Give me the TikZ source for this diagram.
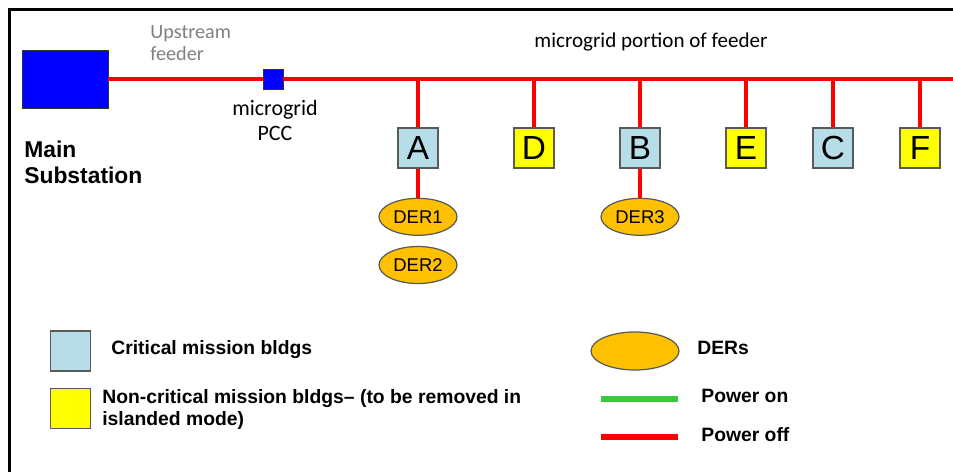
\documentclass[tikz,border=0pt]{standalone}
\usepackage{fontspec}
\setmainfont{Liberation Sans}
\newfontfamily\calibri{Carlito}
\usepackage{xcolor}
\usetikzlibrary{positioning,shapes.geometric}
\definecolor{feedred}{HTML}{FF0000}
\definecolor{critblue}{HTML}{B7DEE8}
\definecolor{noncrityellow}{HTML}{FFFF00}
\definecolor{derorange}{HTML}{FFC000}
\definecolor{subblue}{HTML}{0000FF}
\definecolor{poweron}{HTML}{3CC83C}
\definecolor{edgegray}{HTML}{5A5A5A}

\begin{document}
\begin{tikzpicture}[
  x=0.02cm, y=-0.02cm,
  bldg/.style={draw=edgegray, line width=0.8pt, minimum size=0.8cm,
    inner sep=0pt, font=\fontsize{19}{19}\selectfont},
  crit/.style={bldg, fill=critblue},
  noncrit/.style={bldg, fill=noncrityellow},
  der/.style={ellipse, draw=black!65, line width=0.7pt, fill=derorange,
    minimum width=1.56cm, minimum height=0.74cm, inner sep=0pt,
    font=\fontsize{10.5}{12}\selectfont},
  station/.style={draw=black!80, fill=subblue, inner sep=0pt},
  feeder/.style={draw=feedred, line width=0.08cm},
  note/.style={inner sep=0pt, align=left},
  key/.style={inner sep=0pt, anchor=base west,
    font=\bfseries\fontsize{11}{12.5}\selectfont}
]
\useasboundingbox (0,0) rectangle (953,472);
\draw[black, line width=0.06cm] (9.5,472) -- (9.5,10) -- (953,10);

% substation and point of common coupling
\node[station, minimum width=1.72cm, minimum height=1.16cm] (sub) at (65,79) {};
\node[station, minimum size=0.4cm] (pcc) at (273,79) {};
\coordinate (fend) at (953,79);

% buildings
\node[crit] (bA) at (418,148) {A};
\node[noncrit] (bD) at (534,148) {D};
\node[crit] (bB) at (640,148) {B};
\node[noncrit] (bE) at (746,148) {E};
\node[crit] (bC) at (833,148) {C};
\node[noncrit] (bF) at (920,148) {F};

% DERs
\node[der, below=5.8mm of bA] (der1) {DER1};
\node[der, below=2mm of der1] (der2) {DER2};
\node[der, below=5.8mm of bB] (der3) {DER3};

% feeder
\draw[feeder] (sub.east) -- (pcc.west);
\draw[feeder] (pcc.east) -- (fend);
\foreach \b in {bA,bD,bB,bE,bC,bF}
  \draw[feeder] (\b.north) -- (\b.north |- fend);
\draw[feeder] (bA.south) -- (der1.north);
\draw[feeder] (bB.south) -- (der3.north);

% labels
\node[note, anchor=north west, text=black!50,
  font=\calibri\fontsize{11.5}{12.5}\selectfont] (upstr) at (150,25) {Upstream\\feeder};
\node[note, anchor=north, align=center,
  font=\calibri\fontsize{12.5}{14.2}\selectfont] (pcclbl) at (275,100) {microgrid\\PCC};
\node[note, anchor=north west,
  font=\bfseries\fontsize{13}{14.8}\selectfont] (sublbl) at (24,141) {Main\\Substation};
\node[inner sep=0pt, anchor=base,
  font=\calibri\fontsize{12}{14}\selectfont] (portion) at (651,48) {microgrid portion of feeder};

% legend
\node[crit] (kcrit) at (70.5,351) {};
\node[noncrit] (knon) at (70.5,408.5) {};
\node[key] (tcrit) at (111,355) {Critical mission bldgs};
\node[key, anchor=north west, align=left] (tnon) at (102,389)
  {Non-critical mission bldgs– (to be removed in\\islanded mode)};
\node[der, minimum width=1.76cm, minimum height=0.76cm] (kder) at (635,351) {};
\node[key] (tder) at (697,355) {DERs};
\coordinate (kon1) at (601,399);
\coordinate (kon2) at (678,399);
\draw[draw=poweron, line width=0.12cm] (kon1) -- (kon2);
\node[key] (ton) at (701,403) {Power on};
\coordinate (koff1) at (601,437);
\coordinate (koff2) at (678,437);
\draw[draw=feedred, line width=0.12cm] (koff1) -- (koff2);
\node[key] (toff) at (701,442) {Power off};
\end{tikzpicture}
\end{document}
